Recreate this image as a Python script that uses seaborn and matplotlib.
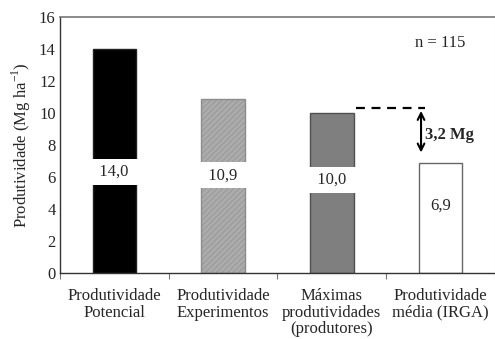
import matplotlib
matplotlib.use("Agg")
import matplotlib.pyplot as plt
import seaborn as sns
import pandas as pd

categories = ["Produtividade\nPotencial", "Produtividade\nExperimentos",
              "Máximas\nprodutividades\n(produtores)", "Produtividade\nmédia (IRGA)"]
values = [14.0, 10.9, 10.0, 6.9]
labels = ["14,0", "10,9", "10,0", "6,9"]
label_y = [6.3, 6.1, 5.8, 4.2]
fills = ["#000000", "#ababab", "#7f7f7f", "#ffffff"]
edges = ["#222222", "#8c8c8c", "#505050", "#666666"]
hatches = [None, "//////", None, None]
gap_top = 10.3
gap_label = "3,2 Mg"
n_label = "n = 115"

sns.set_style("white")
plt.rcParams["font.family"] = ["Liberation Serif", "DejaVu Serif"]
plt.rcParams["hatch.linewidth"] = 0.4

df = pd.DataFrame({"cat": categories, "val": values})

fig = plt.figure(figsize=(4.95, 3.39), dpi=100)
ax = fig.add_axes([0.121, 0.195, 0.879, 0.755])
sns.barplot(data=df, x="cat", y="val", ax=ax, width=0.4, color="white")

for i, p in enumerate(ax.patches):
    p.set_facecolor(fills[i])
    p.set_edgecolor(edges[i])
    p.set_linewidth(1.0)
    if hatches[i]:
        p.set_hatch(hatches[i])

for i, (lab, y) in enumerate(zip(labels, label_y)):
    box = None
    txt = lab
    if i < 3:
        txt = "  " + lab + "  "
        box = dict(facecolor="white", edgecolor="white", linewidth=0,
                   boxstyle="square,pad=0.3")
    ax.text(i, y, txt, ha="center", va="center", fontsize=12, bbox=box,
            zorder=5)

# gap between top producers and mean yield
ax.plot([2.22, 2.86], [gap_top, gap_top], ls="--", color="black", lw=1.6,
        dashes=(4, 3))
ax.annotate("", xy=(2.82, values[3] + 0.45), xytext=(2.82, gap_top),
            arrowprops=dict(arrowstyle="<->", color="black", lw=1.5,
                            mutation_scale=12))
ax.text(2.86, 8.6, gap_label, fontsize=12, fontweight="bold", va="center")
ax.text(3.0, 14.4, n_label, fontsize=12, ha="center", va="center")

ax.set_ylim(0, 16)
ax.set_xlim(-0.5, 3.5)
ax.set_yticks(range(0, 17, 2))
ax.set_xticks([-0.5, 0.5, 1.5, 2.5, 3.5], minor=False)
ax.set_xticks([0, 1, 2, 3], minor=True)
ax.set_xticklabels([""] * 5)
ax.set_xticklabels(categories, minor=True, fontsize=12, linespacing=1.05)
ax.tick_params(axis="x", which="major", direction="out", length=4,
               color="#777777", bottom=True)
ax.tick_params(axis="x", which="minor", length=0, pad=11)
ax.tick_params(axis="y", labelsize=12, length=0, pad=3)
ax.set_xlabel("")
ax.set_ylabel("Produtividade (Mg ha$^{\\mathregular{-1}}$)", fontsize=12)

for s in ["left", "bottom"]:
    ax.spines[s].set_color("#333333")
    ax.spines[s].set_linewidth(1.0)
ax.spines["top"].set_color("#777777")
ax.spines["top"].set_linewidth(1.2)
ax.spines["right"].set_color("#dddddd")

fig.savefig("out.png", dpi=100)
